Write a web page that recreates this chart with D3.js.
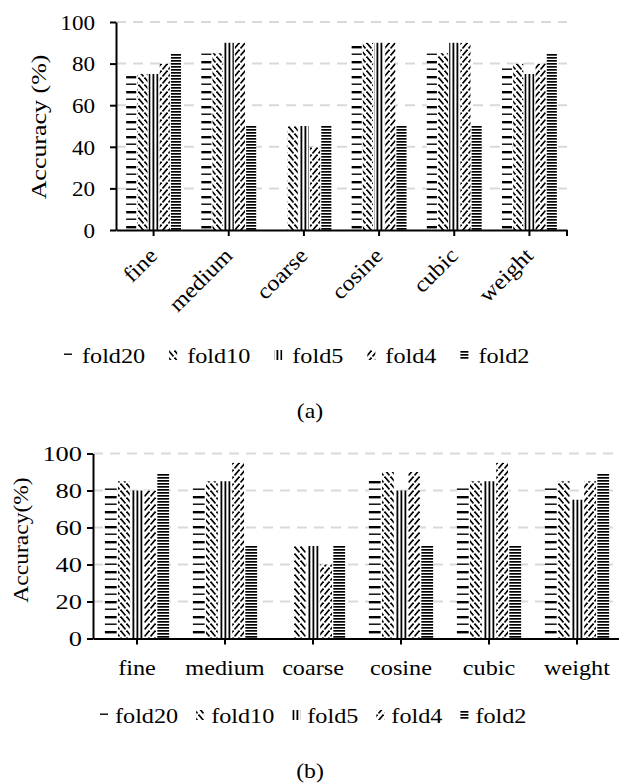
<!DOCTYPE html>
<html><head><meta charset="utf-8">
<script src="https://cdn.jsdelivr.net/npm/d3@7"></script>
<style>
body{margin:0;background:#fff}
svg{display:block}
text{font-family:"Liberation Serif","Times New Roman",serif;fill:#000}
</style>
</head><body>
<svg id="c" width="619" height="783"></svg>
<script>
const categories = ["fine","medium","coarse","cosine","cubic","weight"];
const seriesNames = ["fold20","fold10","fold5","fold4","fold2"];
const yTicks = [0,20,40,60,80,100];
const gridTicks = [20,40,60,80,100];

// chart (a)
const aFold20 = [74,85,0,89,85,78];
const aFold10 = [75,85,50,90,85,80];
const aFold5  = [75,90,50,90,90,75];
const aFold4  = [80,90,40,90,90,80];
const aFold2  = [85,50,50,50,50,85];
// chart (b)
const bFold20 = [83,83,0,87,83,83];
const bFold10 = [85,85,50,90,85,85];
const bFold5  = [80,85,50,80,85,75];
const bFold4  = [80,95,40,90,95,85];
const bFold2  = [89,50,50,50,50,89];

const svg = d3.select("#c");
const defs = svg.append("defs");
function pat(id,w,h,draw){
  const p = defs.append("pattern").attr("id",id).attr("patternUnits","userSpaceOnUse")
    .attr("width",w).attr("height",h);
  p.append("rect").attr("width",w).attr("height",h).attr("fill","#fff");
  draw(p);
}
// fold20: dashed horizontal
pat("p0",40,15,p=>{
  p.append("rect").attr("x",0).attr("y",1).attr("width",40).attr("height",2.4).attr("fill","#000");
  p.append("rect").attr("x",0).attr("y",8.5).attr("width",40).attr("height",1.4).attr("fill","#000");
});
// fold10: downward diagonal dashes
pat("p1",6,7,p=>{
  p.append("path").attr("d","M0.5,0.5L5.5,6.5").attr("stroke","#000").attr("stroke-width",1.6);
});
// fold5: vertical lines
pat("p2",4,4,p=>{
  p.append("rect").attr("x",0.5).attr("y",0).attr("width",1.8).attr("height",4).attr("fill","#000");
});
// fold4: upward diagonal dashes
pat("p3",6,7,p=>{
  p.append("path").attr("d","M0.5,6.5L5.5,0.5").attr("stroke","#000").attr("stroke-width",1.6);
});
// fold2: dense horizontal
pat("p4",4,3,p=>{
  p.append("rect").attr("x",0).attr("y",0).attr("width",4).attr("height",1.7).attr("fill","#000");
});
const patIds = ["p0","p1","p2","p3","p4"];

function stretchText(g, x, y, str, opts){
  return g.append("text")
    .attr("transform", `translate(${x},${y})` + (opts.rot ? ` rotate(${opts.rot})` : "") + ` scale(${opts.sx||1},1)`)
    .attr("text-anchor", opts.anchor || "middle")
    .attr("dy", opts.dy || "0.35em")
    .style("font-size", (opts.size||22) + "px")
    .text(str);
}

function drawChart(o){
  const g = svg.append("g");
  const data = o.series;
  const x = d3.scaleBand().domain(categories).range([o.x0,o.x1]).paddingInner(0.27).paddingOuter(0.135);
  const xi = d3.scaleBand().domain(seriesNames).range([0,x.bandwidth()]).paddingInner(0.1);
  const y = d3.scaleLinear().domain([0,100]).range([o.y0,o.y100]);

  // gridlines
  g.append("g").selectAll("line").data(gridTicks).join("line")
    .attr("x1",o.x0).attr("x2",o.gridEnd)
    .attr("y1",d=>y(d)).attr("y2",d=>y(d))
    .attr("stroke","#d9d9d9").attr("stroke-width",2).attr("stroke-dasharray","10,7");

  // bars
  seriesNames.forEach((s,si)=>{
    g.append("g").selectAll("rect").data(categories).join("rect")
      .attr("x",c=>x(c)+xi(s))
      .attr("width",xi.bandwidth())
      .attr("y",(c,i)=>y(data[si][i]))
      .attr("height",(c,i)=>y(0)-y(data[si][i]))
      .attr("fill",`url(#${patIds[si]})`);
  });

  // y axis
  const ya = g.append("g").attr("transform",`translate(${o.x0},0)`)
    .call(d3.axisLeft(y).tickValues(yTicks).tickSize(6).tickSizeOuter(0).tickFormat(""));
  ya.selectAll("path,line").attr("stroke","#000").attr("stroke-width",2);
  yTicks.forEach(d=>stretchText(g, o.yLabelX, y(d), String(d), {anchor:"end", sx:o.yLabelSx, size:22}));

  // x axis
  const xa = g.append("g").attr("transform",`translate(0,${o.y0})`)
    .call(d3.axisBottom(x).tickSize(6).tickSizeOuter(0).tickFormat(""));
  xa.selectAll("path,line").attr("stroke","#000").attr("stroke-width",2);
  xa.append("line").attr("x1",o.x1).attr("x2",o.x1).attr("y1",0).attr("y2",6).attr("stroke","#000").attr("stroke-width",2);

  categories.forEach(c=>{
    const cx = x(c)+x.bandwidth()/2;
    if(o.rotate){
      stretchText(g, cx+5, o.y0+27, c, {anchor:"end", rot:-45, sx:1.1, dy:"0"});
    } else {
      stretchText(g, cx, o.y0+36, c, {anchor:"middle", sx:1.1, dy:"0"});
    }
  });

  // y title
  stretchText(g, o.titleX, o.titleY, o.title, {anchor:"middle", rot:-90, sx:o.titleSx, size:22});

  // legend
  let lx = o.legendX;
  seriesNames.forEach((s,si)=>{
    g.append("rect").attr("x",lx).attr("y",o.legendY-5).attr("width",8).attr("height",10)
      .attr("fill",`url(#${patIds[si]})`);
    const t = stretchText(g, lx+8+o.legendGap, o.legendY, s, {anchor:"start", sx:1.1, size:22});
    const w = t.node().getComputedTextLength()*1.1;
    lx += 8 + o.legendGap + w + o.legendSpace;
  });

  stretchText(g, 310, o.captionY, o.caption, {anchor:"middle", sx:1.08, size:22});
}

drawChart({
  series:[aFold20,aFold10,aFold5,aFold4,aFold2],
  x0:116, x1:567, gridEnd:567, y0:230, y100:22,
  yLabelX:95, yLabelSx:1.05,
  rotate:true,
  title:"Accuracy (%)", titleX:38, titleY:127, titleSx:1.18,
  legendX:64, legendY:355, legendGap:10, legendSpace:24,
  caption:"(a)", captionY:410
});
drawChart({
  series:[bFold20,bFold10,bFold5,bFold4,bFold2],
  x0:93, x1:621, gridEnd:619, y0:638.5, y100:453.5,
  yLabelX:82, yLabelSx:1.2,
  rotate:false,
  title:"Accuracy(%)", titleX:20, titleY:540, titleSx:1.07,
  legendX:100, legendY:715, legendGap:7, legendSpace:18,
  caption:"(b)", captionY:770
});
</script>
</body></html>
